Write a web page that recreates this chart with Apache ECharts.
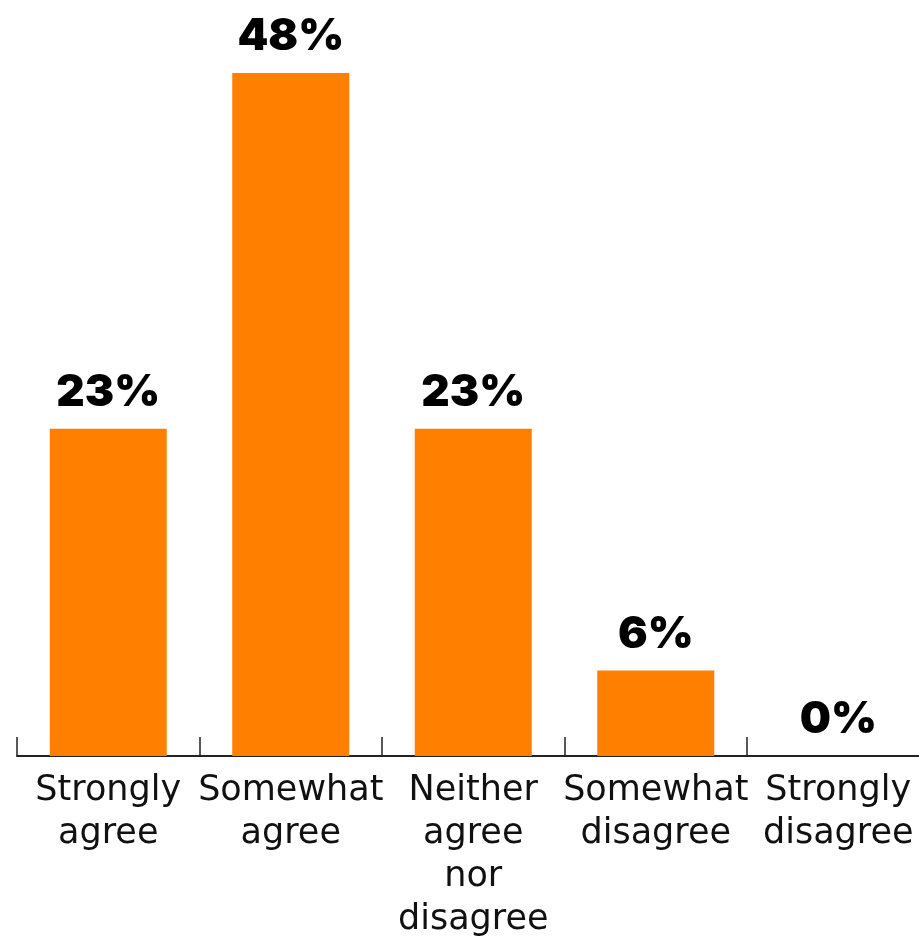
<!DOCTYPE html>
<html>
<head>
<meta charset="utf-8">
<script src="https://cdn.jsdelivr.net/npm/echarts@6/dist/echarts.min.js"></script>
<style>
  html, body { margin: 0; padding: 0; background: #fff; }
  #chart { width: 919px; height: 936px; }
</style>
</head>
<body>
<div id="chart"></div>
<script>
// Survey responses: share of respondents per answer
const categories = [
  'Strongly\nagree',
  'Somewhat\nagree',
  'Neither\nagree\nnor\ndisagree',
  'Somewhat\ndisagree',
  'Strongly\ndisagree'
];
const shares = [23, 48, 23, 6, 0];

const chart = echarts.init(document.getElementById('chart'));
chart.setOption({
  animation: false,
  grid: {
    left: 17, width: 912.5, top: 44.5, bottom: 180,
    containLabel: false,
    outerBoundsMode: 'none'
  },
  xAxis: {
    type: 'category',
    data: categories,
    axisLine: { show: true, lineStyle: { color: '#222', width: 2 } },
    axisTick: { show: true, inside: true, length: 19, lineStyle: { color: '#222', width: 1.5 } },
    axisLabel: {
      color: '#111',
      fontFamily: 'DejaVu Sans',
      fontSize: 35,
      lineHeight: 43,
      margin: 13,
      interval: 0
    }
  },
  yAxis: {
    type: 'value',
    min: 0,
    max: 50,
    show: false,
    splitLine: { show: false }
  },
  series: [{
    type: 'bar',
    data: shares,
    barWidth: 117,
    itemStyle: { color: '#FF8000' },
    label: {
      show: true,
      position: 'top',
      distance: 14,
      formatter: '{c}%',
      color: '#000',
      fontFamily: 'Inter',
      fontWeight: 900,
      fontSize: 44
    }
  }]
});
</script>
</body>
</html>
